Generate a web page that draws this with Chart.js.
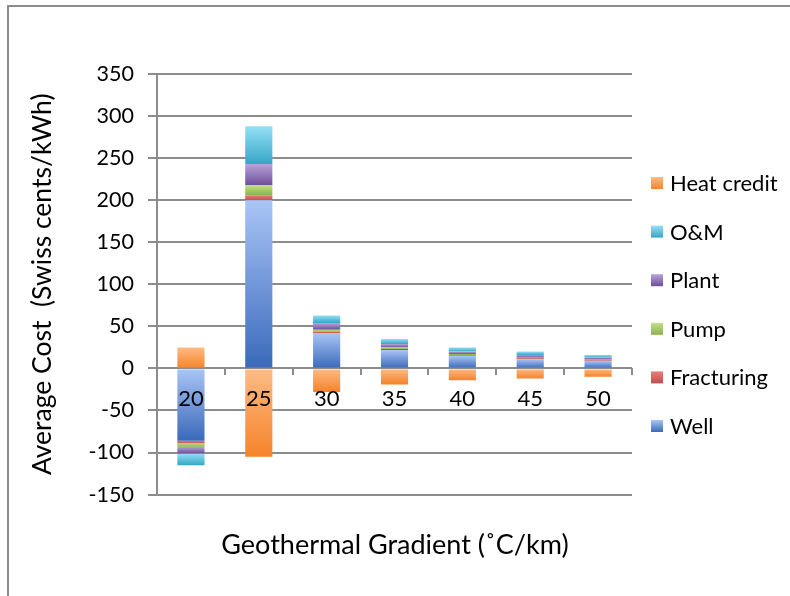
<!DOCTYPE html>
<html>
<head>
<meta charset="utf-8">
<script src="https://cdn.jsdelivr.net/npm/chart.js@4"></script>
<style>
  html, body { margin: 0; padding: 0; background: #fff; }
  #wrap { position: relative; width: 790px; height: 596px; overflow: hidden; }
  #frame { position: absolute; left: 7px; top: 5px; width: 900px; height: 700px;
           border-left: 2px solid #8c8c8c; border-top: 2px solid #8c8c8c; pointer-events: none; }
</style>
</head>
<body>
<div id="wrap">
  <canvas id="costChart" width="790" height="596"></canvas>
  <div id="frame"></div>
</div>
<script>
// gradient (°C/km)
const gradients = ['20', '25', '30', '35', '40', '45', '50'];

// cost components (Swiss cents/kWh)
const well       = [-86, 200, 42, 22, 15, 11, 9];
const fracturing = [-3, 6, 2, 1, 1, 1, 1];
const pump       = [-4, 12, 2, 2, 1, 1, 1];
const plant      = [-8, 25, 8, 4, 3, 3, 2];
const om         = [-14, 45, 9, 6, 5, 4, 3];
const heatCredit = [25, -105, -28, -19, -14, -12, -10];

const yTicks = { min: -150, max: 350, step: 50 };

const FONT = 'Lato';
const series = [well, fracturing, pump, plant, om, heatCredit];

// Excel-like vertical gradient per segment (light top, dark bottom)
function segmentFill(c) {
  const ds = c.chart.data.datasets[c.datasetIndex];
  const y = c.chart.scales.y;
  if (c.type !== 'data' || !y) return ds.colorBottom;
  const i = c.dataIndex, di = c.datasetIndex;
  const v = series[di][i];
  let start = 0;
  for (let k = 0; k < di; k++) {
    const w = series[k][i];
    if ((w >= 0) === (v >= 0)) start += w;
  }
  const p1 = y.getPixelForValue(start), p2 = y.getPixelForValue(start + v);
  const top = Math.min(p1, p2), bot = Math.max(p1, p2);
  if (!isFinite(top) || bot - top < 1) return ds.colorBottom;
  const g = c.chart.ctx.createLinearGradient(0, top, 0, bot);
  g.addColorStop(0, ds.colorTop);
  g.addColorStop(1, ds.colorBottom);
  return g;
}

function mkSet(label, data, top, bottom) {
  return { label: label, data: data, colorTop: top, colorBottom: bottom,
           backgroundColor: segmentFill, borderWidth: 0,
           barPercentage: 0.4, categoryPercentage: 1 };
}

// legend on the right, drawn by hand (reverse order like Excel)
const sideLegend = {
  id: 'sideLegend',
  afterDraw(chart) {
    const ctx = chart.ctx;
    const sets = chart.data.datasets;
    ctx.save();
    ctx.font = '22px ' + FONT;
    ctx.textBaseline = 'middle';
    ctx.textAlign = 'left';
    for (let n = 0; n < sets.length; n++) {
      const d = sets[sets.length - 1 - n];
      const cy = 183 + n * 48.6;
      const g = ctx.createLinearGradient(0, cy - 6, 0, cy + 6);
      g.addColorStop(0, d.colorTop);
      g.addColorStop(1, d.colorBottom);
      ctx.fillStyle = g;
      ctx.fillRect(651, cy - 6, 12, 12);
      ctx.fillStyle = '#000';
      ctx.fillText(d.label, 670, cy + 1);
    }
    ctx.restore();
  }
};

new Chart(document.getElementById('costChart'), {
  type: 'bar',
  data: {
    labels: gradients,
    datasets: [
      mkSet('Well', well, '#a9c5f6', '#3a69bb'),
      mkSet('Fracturing', fracturing, '#ec7c77', '#c0504d'),
      mkSet('Pump', pump, '#c2e08a', '#8db34a'),
      mkSet('Plant', plant, '#b9a4dc', '#6f4e99'),
      mkSet('O&M', om, '#95e0f6', '#35a6c6'),
      mkSet('Heat credit', heatCredit, '#fdbc86', '#f5832a')
    ]
  },
  options: {
    responsive: false,
    animation: false,
    layout: { padding: { left: 0, top: 74, right: 0, bottom: 0 } },
    plugins: {
      legend: { display: false },
      tooltip: { enabled: false },
      title: {
        display: true,
        position: 'bottom',
        text: 'Geothermal Gradient (˚C/km)',
        color: '#000',
        font: { family: FONT, size: 27, weight: 'normal' },
        padding: { top: 34, bottom: 35 }
      }
    },
    scales: {
      x: {
        stacked: true,
        position: { y: 0 },
        border: { display: false },
        grid: { display: true, drawOnChartArea: false, drawTicks: true, tickLength: 7,
                color: '#8c8c8c', lineWidth: 2 },
        ticks: { z: 1, color: '#000', padding: 10, font: { family: FONT, size: 22 } }
      },
      y: {
        stacked: true,
        min: yTicks.min,
        max: yTicks.max,
        afterFit(scale) { scale.width = 157; },
        border: { display: true, color: '#8c8c8c', width: 2 },
        grid: { color: '#8c8c8c', lineWidth: 2, tickLength: 9 },
        ticks: { stepSize: yTicks.step, color: '#000', padding: 14,
                 font: { family: FONT, size: 21.5 } },
        title: {
          display: true,
          text: 'Average Cost  (Swiss cents/kWh)',
          color: '#000',
          font: { family: FONT, size: 26.5, weight: 'normal' },
          padding: { top: 27, bottom: 10 }
        }
      },
      // empty axis that only keeps room for the legend on the right
      legendSpace: {
        type: 'linear',
        position: 'right',
        grid: { display: false },
        border: { display: false },
        ticks: { display: false },
        afterFit(scale) { scale.width = 158; }
      }
    }
  },
  plugins: [sideLegend]
});
</script>
</body>
</html>
